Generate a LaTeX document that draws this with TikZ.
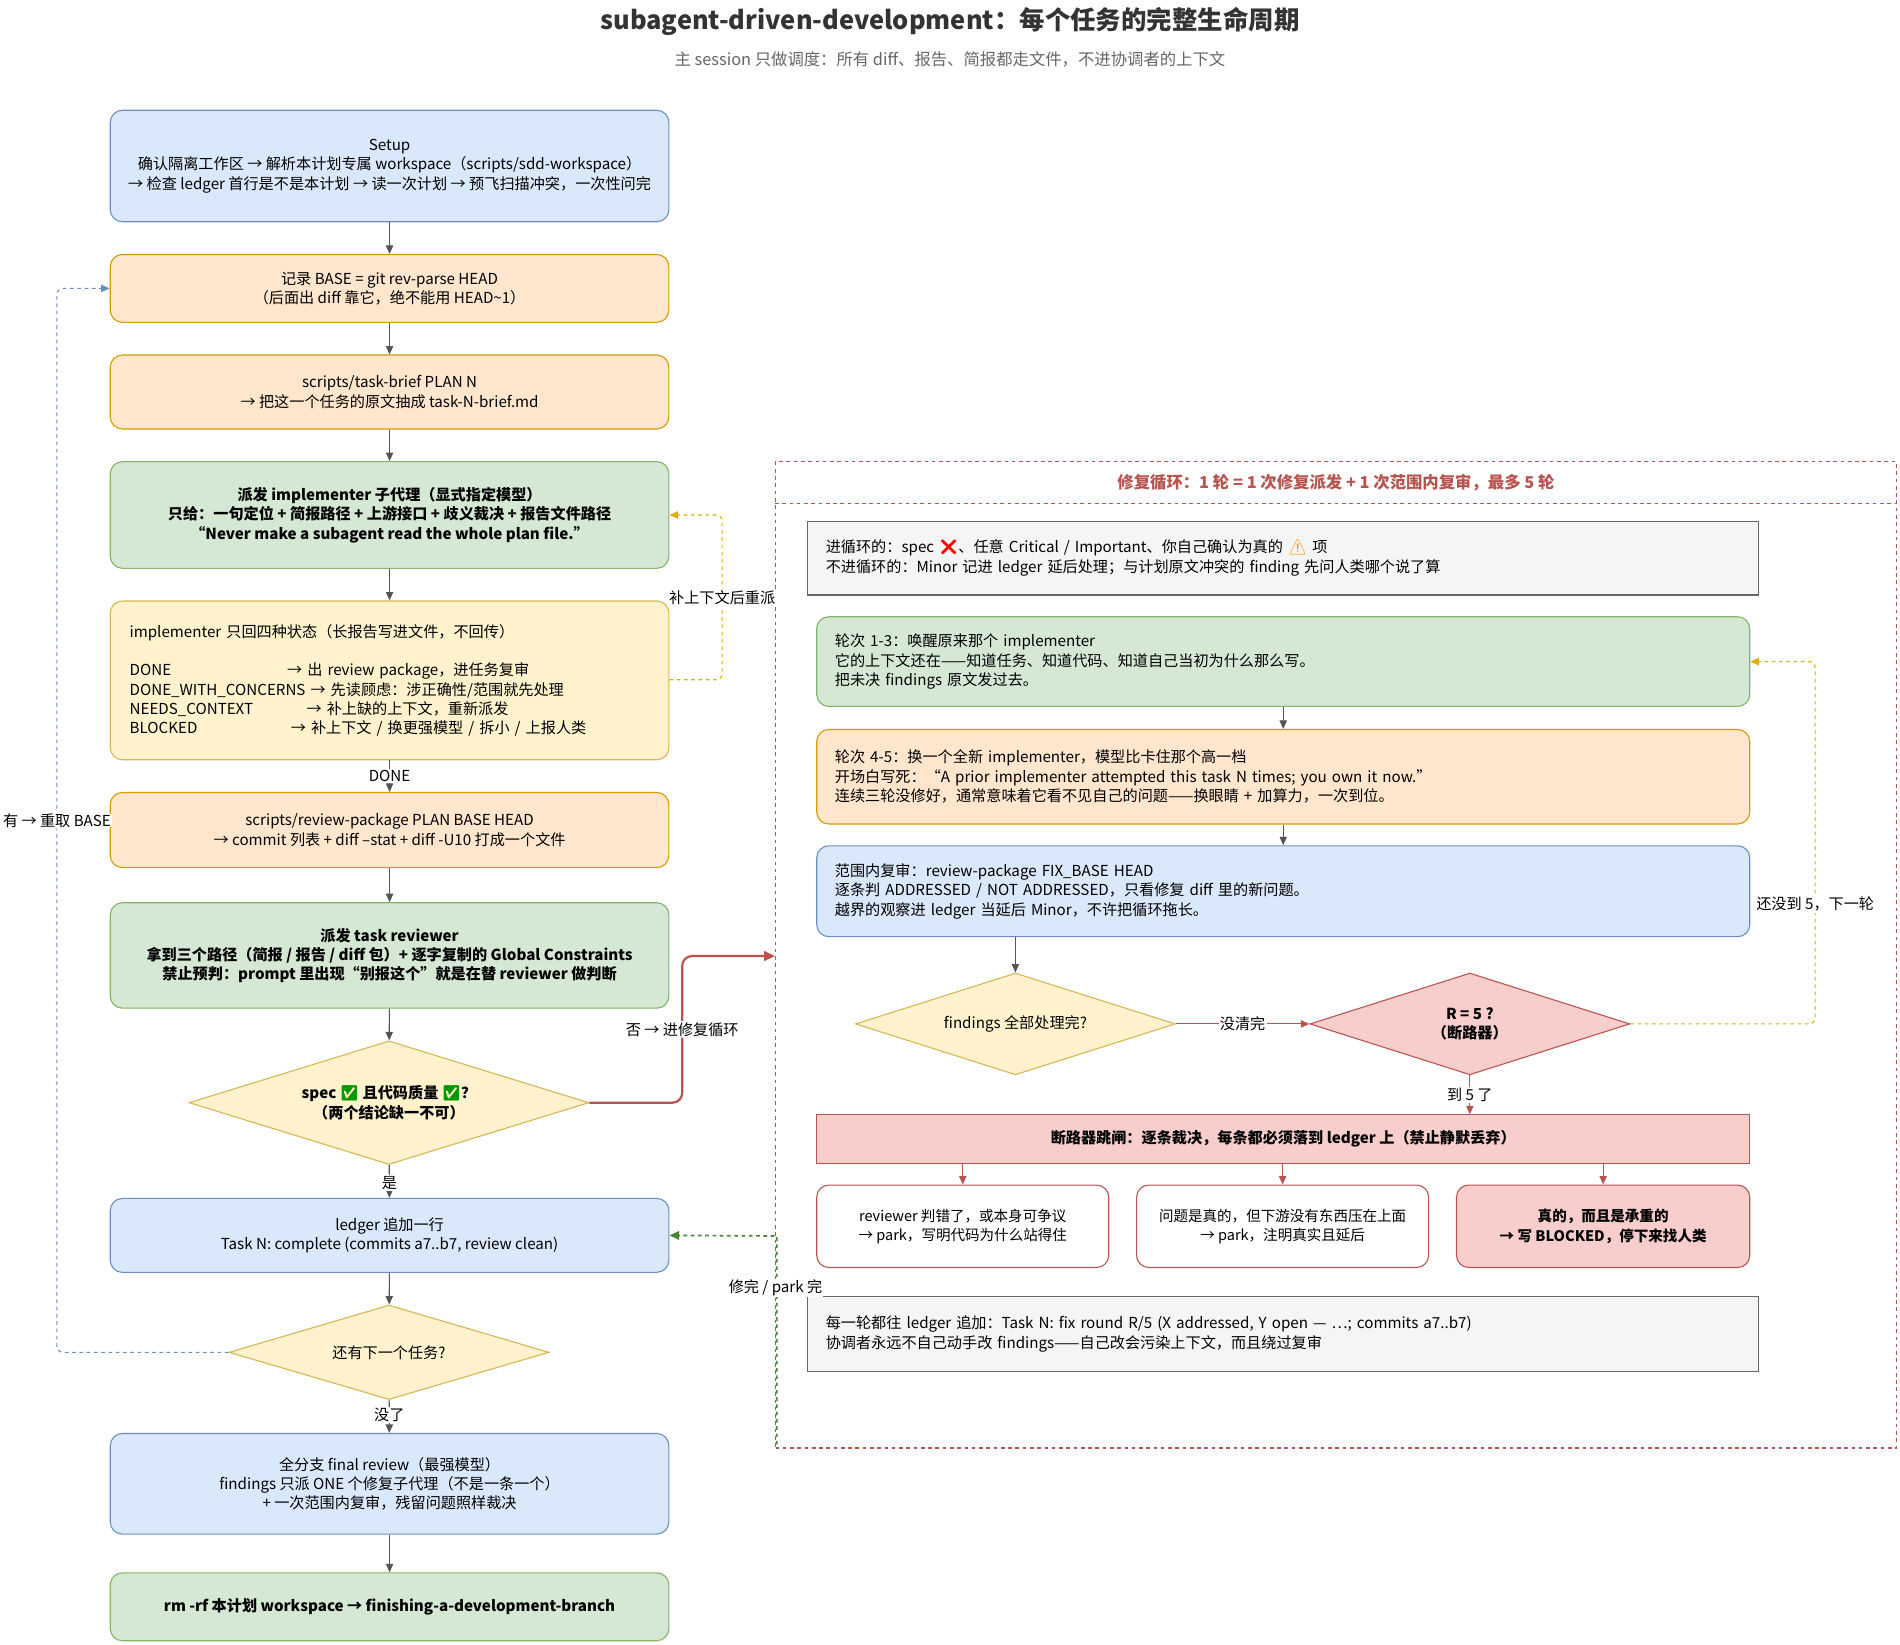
\documentclass[tikz,border=0pt]{standalone}
\usepackage{fontspec}
\setmainfont{Noto Sans CJK SC}
\newfontfamily\emj{Noto Emoji}
\usetikzlibrary{shapes.geometric,arrows.meta}
\definecolor{bF}{HTML}{DAE8FC}\definecolor{bD}{HTML}{6C8EBF}
\definecolor{oF}{HTML}{FFE6CC}\definecolor{oD}{HTML}{D79B00}
\definecolor{gF}{HTML}{D5E8D4}\definecolor{gD}{HTML}{82B366}
\definecolor{yF}{HTML}{FFF2CC}\definecolor{yD}{HTML}{D6B656}
\definecolor{rF}{HTML}{F8CECC}\definecolor{rD}{HTML}{B85450}
\definecolor{sF}{HTML}{F5F5F5}\definecolor{sD}{HTML}{666666}
\definecolor{ln}{HTML}{555555}
\tikzset{
 bx/.style={draw, line width=0.9pt, rounded corners=10pt, align=center, inner sep=0pt, font=\fontsize{12.5}{16}\selectfont},
 sq/.style={draw, line width=0.9pt, align=left, inner sep=0pt, font=\fontsize{12.5}{16}\selectfont},
 blue/.style={fill=bF, draw=bD}, orange/.style={fill=oF, draw=oD},
 green/.style={fill=gF, draw=gD}, yellow/.style={fill=yF, draw=yD},
 red/.style={fill=rF, draw=rD}, grey/.style={fill=sF, draw=sD},
 dia/.style={diamond, draw, line width=0.9pt, aspect=3.2, inner sep=0pt, align=center, font=\fontsize{12.5}{16}\selectfont},
 arr/.style={draw=ln, line width=0.9pt, -{Triangle[length=7pt,width=6pt]}},
 lbl/.style={fill=white, inner sep=1pt, font=\fontsize{12.5}{15}\selectfont},
}
\begin{document}
\begin{tikzpicture}[x=1pt,y=-1pt]
\useasboundingbox[fill=white] (0,0) rectangle (1568,1357);
\node[font=\fontsize{21}{24}\selectfont\bfseries, text=black!80] (title) at (784,18) {subagent-driven-development：每个任务的完整生命周期};
\node[font=\fontsize{13.5}{16}\selectfont, text=black!60] (sub) at (784,49) {主 session 只做调度：所有 diff、报告、简报都走文件，不进协调者的上下文};
% left column
\node[bx,blue,minimum width=461pt,minimum height=92pt] (setup) at (321.5,137) {Setup\\确认隔离工作区 → 解析本计划专属 workspace（scripts/sdd-workspace）\\→ 检查 ledger 首行是不是本计划 → 读一次计划 → 预飞扫描冲突，一次性问完};
\node[bx,orange,minimum width=461pt,minimum height=56pt] (base) at (321.5,238) {记录 BASE = git rev-parse HEAD\\（后面出 diff 靠它，绝不能用 HEAD\textasciitilde1）};
\node[bx,orange,minimum width=461pt,minimum height=61pt] (brief) at (321.5,323.5) {scripts/task-brief PLAN N\\→ 把这一个任务的原文抽成 task-N-brief.md};
\node[bx,green,minimum width=461pt,minimum height=88pt,font=\fontsize{12.5}{16}\selectfont\bfseries] (impl) at (321.5,425) {派发 implementer 子代理（显式指定模型）\\只给：一句定位 + 简报路径 + 上游接口 + 歧义裁决 + 报告文件路径\\“Never make a subagent read the whole plan file.”};
\node[bx,yellow,minimum width=461pt,minimum height=131pt,align=left,text width=429pt] (status) at (321.5,561.5) {implementer 只回四种状态（长报告写进文件，不回传）\\[16pt]
\makebox[130pt][l]{DONE}→ 出 review package，进任务复审\\
DONE\_WITH\_CONCERNS → 先读顾虑：涉正确性/范围就先处理\\
\makebox[146pt][l]{NEEDS\_CONTEXT}→ 补上缺的上下文，重新派发\\
\makebox[133pt][l]{BLOCKED}→ 补上下文 / 换更强模型 / 拆小 / 上报人类};
\node[bx,orange,minimum width=461pt,minimum height=62pt] (rpkg) at (321.5,685) {scripts/review-package PLAN BASE HEAD\\→ commit 列表 + diff --stat + diff -U10 打成一个文件};
\node[bx,green,minimum width=461pt,minimum height=87pt,font=\fontsize{12.5}{16}\selectfont\bfseries] (rev) at (321.5,788.5) {派发 task reviewer\\拿到三个路径（简报 / 报告 / diff 包）+ 逐字复制的 Global Constraints\\禁止预判：prompt 里出现“别报这个”就是在替 reviewer 做判断};
\node[dia,yellow,minimum width=330pt,minimum height=102pt,font=\fontsize{12.5}{16}\selectfont\bfseries] (spec) at (321,910) {spec {\emj\textcolor{green!60!black}{✅}} 且代码质量 {\emj\textcolor{green!60!black}{✅}}？\\（两个结论缺一不可）};
\node[bx,blue,minimum width=461pt,minimum height=61pt] (ledger) at (321.5,1019.5) {ledger 追加一行\\Task N: complete (commits a7..b7, review clean)};
\node[dia,yellow,minimum width=264pt,minimum height=78pt] (next) at (321,1116) {还有下一个任务?};
\node[bx,blue,minimum width=461pt,minimum height=83pt] (final) at (321.5,1224.5) {全分支 final review（最强模型）\\findings 只派 ONE 个修复子代理（不是一条一个）\\+ 一次范围内复审，残留问题照样裁决};
\node[bx,green,minimum width=461pt,minimum height=56pt,font=\fontsize{12.5}{16}\selectfont\bfseries] (rm) at (321.5,1326) {rm -rf 本计划 workspace → finishing-a-development-branch};
% container
\node[draw=rD, dashed, line width=0.9pt, minimum width=925pt, minimum height=814pt, inner sep=0pt] (loop) at (1102.5,788) {};
\draw[draw=rD, dashed, line width=0.9pt] (loop.north west) ++(0,35) coordinate (hl) -- ++(925,0) coordinate (hr);
\node[font=\fontsize{13.5}{16}\selectfont\bfseries, text=rD] (ltitle) at (1102.5,398) {修复循环：1 轮 = 1 次修复派发 + 1 次范围内复审，最多 5 轮};
\tikzset{rb/.style={sq,minimum width=770pt,text width=740pt,inner xsep=15pt,text depth=0pt}}
\node[sq,grey,minimum width=770pt,minimum height=61pt,text width=755pt,inner xsep=15pt] (enter) at (1059,460.5) {进循环的：spec {\emj\textcolor{red}{❌}}、任意 Critical / Important、你自己确认为真的 {\emj\textcolor{orange!90!yellow}{⚠}} 项\\不进循环的：Minor 记进 ledger 延后处理；与计划原文冲突的 finding 先问人类哪个说了算};
\node[bx,green,minimum width=770pt,minimum height=74pt,text width=740pt,align=left] (r13) at (1059,546) {轮次 1-3：唤醒原来那个 implementer\\它的上下文还在——知道任务、知道代码、知道自己当初为什么那么写。\\把未决 findings 原文发过去。};
\node[bx,orange,minimum width=770pt,minimum height=78pt,text width=740pt,align=left] (r45) at (1059,641) {轮次 4-5：换一个全新 implementer，模型比卡住那个高一档\\开场白写死：“A prior implementer attempted this task N times; you own it now.”\\连续三轮没修好，通常意味着它看不见自己的问题——换眼睛 + 加算力，一次到位。};
\node[bx,blue,minimum width=770pt,minimum height=75pt,text width=740pt,align=left] (scope) at (1059,735.5) {范围内复审：review-package FIX\_BASE HEAD\\逐条判 ADDRESSED / NOT ADDRESSED，只看修复 diff 里的新问题。\\越界的观察进 ledger 当延后 Minor，不许把循环拖长。};
\node[dia,yellow,minimum width=264pt,minimum height=84pt] (fall) at (838,845) {findings 全部处理完?};
\node[dia,red,minimum width=264pt,minimum height=84pt,font=\fontsize{12.5}{16}\selectfont\bfseries] (r5) at (1213,845) {R = 5 ?\\（断路器）};
\node[sq,red,minimum width=770pt,minimum height=40pt,align=center,font=\fontsize{12.5}{16}\selectfont\bfseries] (trip) at (1059,940) {断路器跳闸：逐条裁决，每条都必须落到 ledger 上（禁止静默丢弃）};
\node[bx,draw=rD,fill=white,minimum width=241pt,minimum height=68pt,font=\fontsize{12}{16}\selectfont] (k1) at (794.5,1012) {reviewer 判错了，或本身可争议\\→ park，写明代码为什么站得住};
\node[bx,draw=rD,fill=white,minimum width=241pt,minimum height=68pt,font=\fontsize{12}{16}\selectfont] (k2) at (1058.5,1012) {问题是真的，但下游没有东西压在上面\\→ park，注明真实且延后};
\node[bx,red,minimum width=242pt,minimum height=68pt,font=\fontsize{12}{16}\selectfont\bfseries] (k3) at (1323,1012) {真的，而且是承重的\\→ 写 BLOCKED，停下来找人类};
\node[sq,grey,minimum width=770pt,minimum height=62pt,text width=755pt,inner xsep=15pt] (each) at (1059,1101) {每一轮都往 ledger 追加：Task N: fix round R/5 (X addressed, Y open — …; commits a7..b7)\\协调者永远不自己动手改 findings——自己改会污染上下文，而且绕过复审};
% left edges
\draw[arr] (setup) -- (base);
\draw[arr] (base) -- (brief);
\draw[arr] (brief) -- (impl);
\draw[arr] (impl) -- (status);
\draw[arr] (status) -- node[lbl]{DONE} (rpkg);
\draw[arr] (rpkg) -- (rev);
\draw[arr] (rev) -- (spec);
\draw[arr] (spec) -- node[lbl,pos=0.55]{是} (ledger);
\draw[arr] (ledger) -- (next);
\draw[arr] (next) -- node[lbl,pos=0.45]{没了} (final);
\draw[arr] (final) -- (rm);
\draw[draw=oD!80!yellow, dashed, line width=0.9pt, rounded corners=5pt, -{Triangle[length=7pt,width=6pt]}] (status.east |- 0,561) -- (596,561) -- node[lbl,pos=0.5]{补上下文后重派} (596,425) -- (impl.east);
\draw[draw=rD, line width=1.8pt, rounded corners=8pt, -{Triangle[length=9pt,width=8pt]}] (spec.east) -- (563,910) -- node[lbl,pos=0.5]{否 → 进修复循环} (563,789) -- (loop.west |- 0,789);
\draw[draw=bD, dashed, line width=0.9pt, rounded corners=5pt, -{Triangle[length=7pt,width=6pt]}] (next.west) -- (47,1116) -- node[lbl,pos=0.5]{有 → 重取 BASE} (47,238) -- (base.west);
\coordinate (gstart) at (641,1192);
\draw[draw=gD!80!green!70!black, dashed, line width=1.4pt, -{Triangle[length=8pt,width=7pt]}] (gstart) -- (641,1020) -- (ledger.east);
\node[lbl] (gl) at (640,1063) {修完 / park 完};
% right edges
\draw[arr] (r13) -- (r45);
\draw[arr] (r45) -- (scope);
\draw[arr] (scope.south -| fall.north) -- (fall.north);
\draw[draw=rD, line width=0.9pt, -{Triangle[length=7pt,width=6pt]}] (fall.east) -- node[lbl]{没清完} (r5.west);
\draw[draw=rD, line width=0.9pt, -{Triangle[length=7pt,width=6pt]}] (r5.south) -- node[lbl,pos=0.5]{到 5 了} (trip.north -| r5.south);
\draw[draw=oD!80!yellow, dashed, line width=0.9pt, rounded corners=5pt, -{Triangle[length=7pt,width=6pt]}] (r5.east) -- (1498,845) -- node[lbl,pos=0.33]{还没到 5，下一轮} (1498,546) -- (r13.east);
\draw[draw=rD, line width=0.9pt, -{Triangle[length=7pt,width=6pt]}] (trip.south -| k1) -- (k1);
\draw[draw=rD, line width=0.9pt, -{Triangle[length=7pt,width=6pt]}] (trip.south -| k2) -- (k2);
\draw[draw=rD, line width=0.9pt, -{Triangle[length=7pt,width=6pt]}] (trip.south -| k3) -- (k3);
\end{tikzpicture}
\end{document}
